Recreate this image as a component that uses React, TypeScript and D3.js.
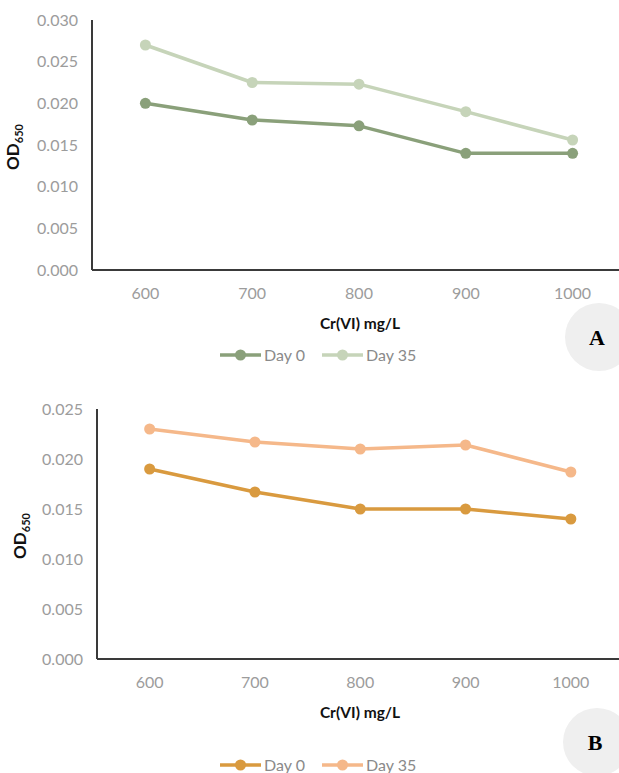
import React, { useRef, useEffect } from 'react';
import * as d3 from 'd3';

// shared x categories
const concentrations = ['600', '700', '800', '900', '1000'];
const seriesNames = ['Day 0', 'Day 35'];

// panel A (green)
const aDay0 = [0.020, 0.018, 0.0173, 0.014, 0.014];
const aDay35 = [0.027, 0.0225, 0.0223, 0.019, 0.0156];
const aTicks = [0, 0.005, 0.01, 0.015, 0.02, 0.025, 0.03];
const aColors = ['#8aa07a', '#c6d4b9'];

// panel B (orange)
const bDay0 = [0.019, 0.0167, 0.015, 0.015, 0.014];
const bDay35 = [0.023, 0.0217, 0.021, 0.0214, 0.0187];
const bTicks = [0, 0.005, 0.01, 0.015, 0.02, 0.025];
const bColors = ['#d99a3f', '#f5b88a'];

const FONT = 'Lato, "Open Sans", sans-serif';

const drawPanel = (svg, cfg) => {
  const g = svg.append('g');
  const { left, plotTop, plotBottom, bandLeft, bandWidth } = cfg;

  const x = d3.scaleBand()
    .domain(concentrations)
    .range([bandLeft, bandLeft + bandWidth * concentrations.length]);

  const y = d3.scaleLinear()
    .domain([0, d3.max(cfg.ticks)])
    .range([plotBottom, plotTop]);

  const cx = d => x(d) + x.bandwidth() / 2;

  // y tick labels
  g.append('g')
    .selectAll('text')
    .data(cfg.ticks)
    .join('text')
    .attr('x', left - 14)
    .attr('y', d => y(d))
    .attr('dy', '0.35em')
    .attr('text-anchor', 'end')
    .attr('font-family', FONT)
    .attr('font-size', 16)
    .attr('fill', '#9c9c9c')
    .text(d => d.toFixed(3));

  // x tick labels
  g.append('g')
    .selectAll('text')
    .data(concentrations)
    .join('text')
    .attr('x', d => cx(d))
    .attr('y', plotBottom + 29)
    .attr('text-anchor', 'middle')
    .attr('font-family', FONT)
    .attr('font-size', 16)
    .attr('fill', '#9c9c9c')
    .text(d => d);

  // axes lines
  g.append('line')
    .attr('x1', left).attr('x2', left)
    .attr('y1', plotTop).attr('y2', plotBottom)
    .attr('stroke', '#3a3a3a').attr('stroke-width', 2);
  g.append('line')
    .attr('x1', left).attr('x2', 619)
    .attr('y1', plotBottom).attr('y2', plotBottom)
    .attr('stroke', '#3a3a3a').attr('stroke-width', 2);

  // series
  const line = d3.line().x((d, i) => cx(concentrations[i])).y(d => y(d));
  cfg.series.forEach((vals, si) => {
    g.append('path')
      .datum(vals)
      .attr('d', line)
      .attr('fill', 'none')
      .attr('stroke', cfg.colors[si])
      .attr('stroke-width', 3.5)
      .attr('stroke-linejoin', 'round');
    g.append('g')
      .selectAll('circle')
      .data(vals)
      .join('circle')
      .attr('cx', (d, i) => cx(concentrations[i]))
      .attr('cy', d => y(d))
      .attr('r', 5.5)
      .attr('fill', cfg.colors[si]);
  });

  // y axis title OD650
  const yt = g.append('text')
    .attr('transform', `translate(${cfg.yTitleX},${(plotTop + plotBottom) / 2 + 2}) rotate(-90)`)
    .attr('text-anchor', 'middle')
    .attr('font-family', FONT)
    .attr('font-weight', 'bold')
    .attr('font-size', 17)
    .attr('fill', '#111');
  yt.append('tspan').text('OD');
  yt.append('tspan').attr('font-size', 11).attr('dy', 4).text('650');

  // x axis title
  g.append('text')
    .attr('x', 360)
    .attr('y', plotBottom + 59)
    .attr('text-anchor', 'middle')
    .attr('font-family', FONT)
    .attr('font-weight', 'bold')
    .attr('font-size', 15.5)
    .attr('fill', '#111')
    .text('Cr(VI) mg/L');

  // legend
  const lg = g.append('g').attr('transform', `translate(0,${cfg.legendY})`);
  const legendX = [220, 322];
  seriesNames.forEach((name, i) => {
    const lx = legendX[i];
    lg.append('line')
      .attr('x1', lx).attr('x2', lx + 41)
      .attr('y1', 0).attr('y2', 0)
      .attr('stroke', cfg.colors[i]).attr('stroke-width', 3.5);
    lg.append('circle').attr('cx', lx + 20.5).attr('cy', 0).attr('r', 5.5).attr('fill', cfg.colors[i]);
    lg.append('text')
      .attr('x', lx + 44)
      .attr('y', 0)
      .attr('dy', '0.35em')
      .attr('font-family', FONT)
      .attr('font-size', 16)
      .attr('fill', '#8a8a8a')
      .text(name);
  });

  // panel letter badge
  g.append('circle')
    .attr('cx', cfg.badge[0]).attr('cy', cfg.badge[1]).attr('r', 34)
    .attr('fill', '#efefef');
  g.append('text')
    .attr('x', cfg.badge[0] - 2).attr('y', cfg.badge[1])
    .attr('dy', '0.35em')
    .attr('text-anchor', 'middle')
    .attr('font-family', '"Liberation Serif", serif')
    .attr('font-weight', 'bold')
    .attr('font-size', 22)
    .attr('fill', '#000')
    .text(cfg.letter);
};

const App = () => {
  const svgRef = useRef();

  useEffect(() => {
    const svg = d3.select(svgRef.current);
    svg.selectAll('*').remove();

    drawPanel(svg, {
      left: 92, plotTop: 20, plotBottom: 270,
      bandLeft: 92, bandWidth: 106.8,
      ticks: aTicks, series: [aDay0, aDay35], colors: aColors,
      yTitleX: 19, legendY: 355, badge: [599, 337], letter: 'A',
    });

    drawPanel(svg, {
      left: 97, plotTop: 409, plotBottom: 659,
      bandLeft: 97, bandWidth: 105.3,
      ticks: bTicks, series: [bDay0, bDay35], colors: bColors,
      yTitleX: 26, legendY: 765, badge: [597, 742], letter: 'B',
    });
  }, []);

  return (
    <svg
      ref={svgRef}
      width={619}
      height={773}
      style={{ position: 'absolute', left: 0, top: 0, background: '#fff' }}
    />
  );
};

export default App;
